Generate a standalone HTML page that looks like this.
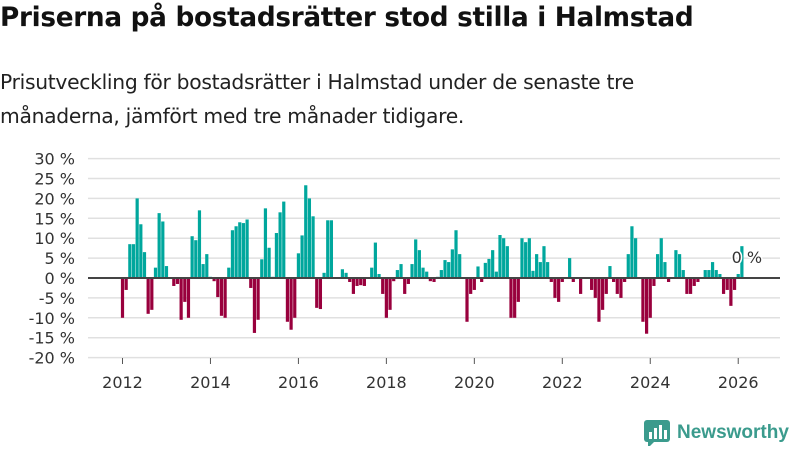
<!DOCTYPE html>
<html><head><meta charset="utf-8"><style>
body{margin:0;width:800px;height:450px;background:#fff;font-family:"Liberation Sans","DejaVu Sans",sans-serif;overflow:hidden;position:relative}
#title{position:absolute;left:0;top:3px;font-size:26.3px;font-weight:bold;color:#111;font-family:"DejaVu Sans",sans-serif;letter-spacing:-0.3px;white-space:nowrap}
#sub{position:absolute;left:0;top:65px;font-size:20.3px;line-height:34px;color:#222;font-family:"DejaVu Sans",sans-serif;letter-spacing:-0.3px;white-space:nowrap}
svg{position:absolute;left:0;top:0}
</style></head><body>
<div id="title">Priserna på bostadsrätter stod stilla i Halmstad</div>
<div id="sub">Prisutveckling för bostadsrätter i Halmstad under de senaste tre<br>månaderna, jämfört med tre månader tidigare.</div>
<svg id="chart" width="800" height="450"></svg>
<script>
const values=[-10,-3,8.5,8.5,20,13.5,6.5,-9,-8,2.6,16.3,14.2,3,0,-2,-1.5,-10.5,-6,-10,10.5,9.5,17,3.5,6,0.3,-0.8,-4.8,-9.5,-10,2.6,12,13,14,13.8,14.7,-2.5,-13.8,-10.5,4.7,17.5,7.6,0.3,11.3,16.5,19.2,-11,
-13,-10,6.2,10.7,23.3,20,15.5,-7.5,-7.8,1.3,14.5,14.5,0,0,2.2,1.3,-1,-4,-2,-1.8,-2,0,2.6,8.9,1,-4,-10,-8,-0.8,2,3.5,-4,-1.5,3.5,9.7,7,2.6,1.6,-0.8,-1,0.3,2,4.5,4,7.2,12,6,
0,-11,-4,-3,2.9,-1,3.8,4.8,7,1.6,10.8,10,8,-10,-10,-6,10,9,10,1.8,6,4,8,4,-1,-5,-6,-1,0,5,-1,0,-4,0,0,-3,-5,-11,-8,-4,3,-1,-4,-5,-1,6,
13,10,0,-11,-14,-10,-2,6,10,4,-1,0,7,6,2,-4,-4,-2,-1,0,2,2,4,2,1,-4,-3,-7,-3,1,8];
const startYear=2012;
const yTicks=[30,25,20,15,10,5,0,-5,-10,-15,-20];
const xTickYears=[2012,2014,2016,2018,2020,2022,2024,2026];
const NS="http://www.w3.org/2000/svg";
const svg=document.getElementById('chart');
const X0=88,X1=780;
function y(v){return 278-v*3.98;}
function xm(i){return 122.5+i*3.665;}
function mk(t,a){const e=document.createElementNS(NS,t);for(const k in a)e.setAttribute(k,a[k]);svg.appendChild(e);return e;}
yTicks.forEach(t=>{
  const g=mk('line',{x1:X0,x2:X1,y1:y(t),y2:y(t),stroke:'#e0e0e0','stroke-width':1.5});
  
  
  const l=mk('text',{x:75,y:y(t)+6,'text-anchor':'end','font-size':16,fill:'#333','font-family':'DejaVu Sans, sans-serif'});
  l.textContent=t+' %';
  
  
});
values.forEach((v,i)=>{
  const b=mk('rect',{x:xm(i)-1.6,width:3.2,y:Math.min(y(v),y(0)),height:Math.abs(y(v)-y(0)),fill:v>=0?'#00a79d':'#99003d'});
  
  
});
const z=mk('line',{x1:X0,x2:X1,y1:y(0),y2:y(0),stroke:'#444','stroke-width':2});


xTickYears.forEach(yr=>{
  const xx=xm((yr-startYear)*12);
  const t=mk('line',{x1:xx,x2:xx,y1:358,y2:364,stroke:'#555','stroke-width':1});
  
  
  const l=mk('text',{x:xx,y:388,'text-anchor':'middle','font-size':16,fill:'#333','font-family':'DejaVu Sans, sans-serif'});
  l.textContent=yr;
  
  
});
const last=values.length-1;
const lab=mk('text',{x:xm(last)+5,y:263,'text-anchor':'middle','font-size':16,fill:'#333',stroke:'#fff','stroke-width':3,'paint-order':'stroke','font-family':'DejaVu Sans, sans-serif'});
lab.textContent='0 %';


</script>
<div style="position:absolute;left:644px;top:420px;display:flex;align-items:center">
<svg width="26" height="26" style="position:static" viewBox="0 0 26 26"><rect x="0" y="0" width="26" height="22" rx="3" fill="#3b9b8d"/><path d="M4 22 L4 28 L10 22Z" fill="#3b9b8d"/><rect x="5" y="12" width="3" height="7" fill="#fff"/><rect x="10" y="8" width="3" height="11" fill="#fff"/><rect x="15" y="5" width="3" height="14" fill="#fff"/><rect x="20" y="10" width="3" height="9" fill="#fff"/></svg>
<span style="margin-left:7px;font-size:19px;font-weight:bold;color:#3b9b8d;font-family:'Liberation Sans',sans-serif;letter-spacing:0px">Newsworthy</span></div>
</body></html>
